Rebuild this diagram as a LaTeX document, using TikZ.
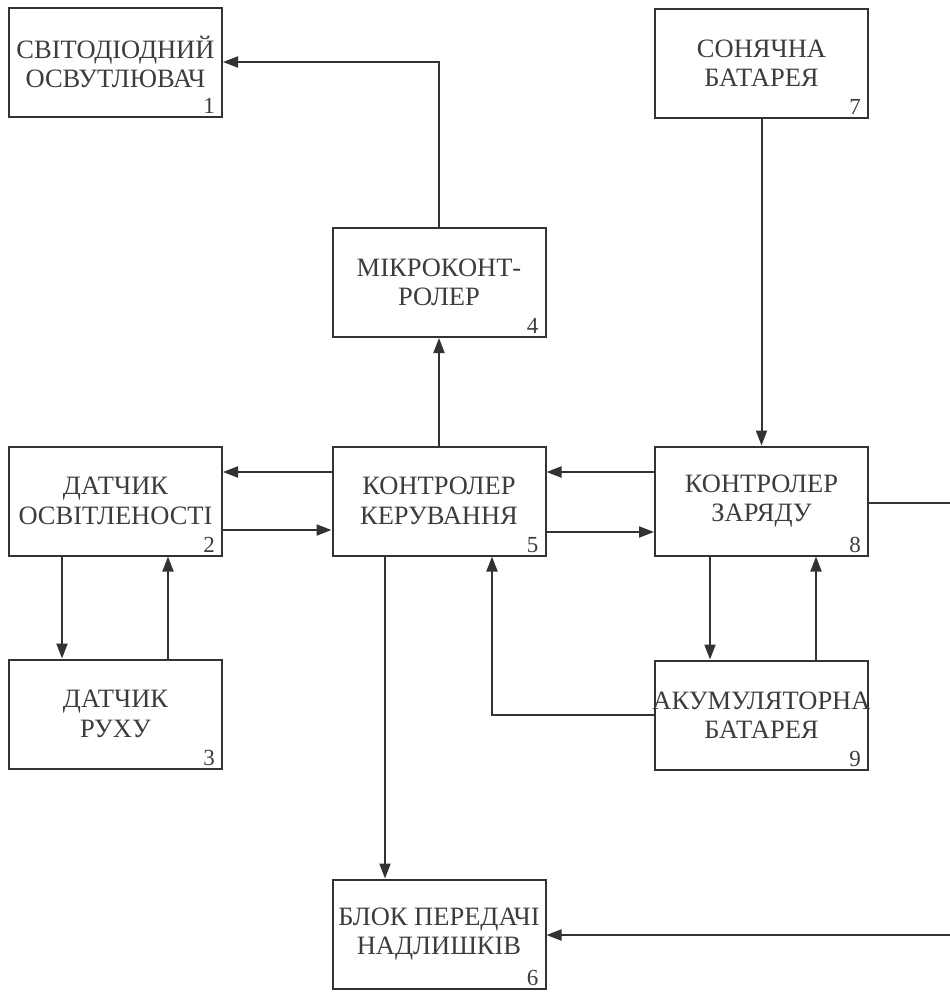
\documentclass[tikz,border=0pt]{standalone}
\usepackage{fontspec}
\setmainfont{Liberation Serif}
\usetikzlibrary{arrows.meta}
\definecolor{lnc}{RGB}{50,50,50}
\definecolor{txc}{RGB}{60,60,60}
\begin{document}
\begin{tikzpicture}[x=1pt,y=-1pt,
  blk/.style={draw=lnc, line width=2pt, rectangle, minimum width=213pt, minimum height=109pt,
    inner sep=0pt, align=center, text=txc, font=\fontsize{26.5}{29.5}\selectfont},
  num/.style={anchor=south east, inner sep=0pt, text=txc, font=\fontsize{23}{24}\selectfont, xshift=-8pt, yshift=4pt},
  arr/.style={draw=lnc, line width=2pt, -{Triangle[length=15pt,width=11pt]}},
  ln/.style={draw=lnc, line width=2pt}]
\useasboundingbox (0,0) rectangle (950,994);
\node[blk] (b1) at (115.5,62) {СВІТОДІОДНИЙ\\ОСВУТЛЮВАЧ};
\node[blk] (b7) at (761.5,63) {СОНЯЧНА\\БАТАРЕЯ};
\node[blk] (b4) at (439,282.5) {МІКРОКОНТ-\\РОЛЕР};
\node[blk] (b2) at (115.5,501) {ДАТЧИК\\ОСВІТЛЕНОСТІ};
\node[blk] (b5) at (439,501) {КОНТРОЛЕР\\КЕРУВАННЯ};
\node[blk] (b8) at (761.5,501) {КОНТРОЛЕР\\ЗАРЯДУ};
\node[blk] (b3) at (115.5,714) {ДАТЧИК\\РУХУ};
\node[blk] (b9) at (761.5,715) {\makebox[200pt]{АКУМУЛЯТОРНА}\\БАТАРЕЯ};
\node[blk] (b6) at (439,934) {БЛОК ПЕРЕДАЧІ\\НАДЛИШКІВ};
\node[num] (n1) at (b1.south east) {1};
\node[num] (n2) at (b2.south east) {2};
\node[num] (n3) at (b3.south east) {3};
\node[num] (n4) at (b4.south east) {4};
\node[num] (n5) at (b5.south east) {5};
\node[num] (n6) at (b6.south east) {6};
\node[num] (n7) at (b7.south east) {7};
\node[num] (n8) at (b8.south east) {8};
\node[num] (n9) at (b9.south east) {9};
\coordinate (e8) at (950,503);
\coordinate (e6) at (950,935);
% connectors
\draw[arr] (b5.north) -- (b4.south);
\draw[arr] (b4.north) |- (b1.east);
\draw[arr] ([yshift=29pt]b5.west) -- ([yshift=29pt]b2.east);
\draw[arr] ([yshift=-29pt]b2.east) -- ([yshift=-29pt]b5.west);
\draw[arr] ([yshift=29pt]b8.west) -- ([yshift=29pt]b5.east);
\draw[arr] ([yshift=-31pt]b5.east) -- ([yshift=-31pt]b8.west);
\draw[arr] (b7.south) -- (b8.north);
\draw[ln] (b8.east |- e8) -- (e8);
\draw[arr] (e6) -- (b6.east |- e6);
\draw[arr] ([xshift=-53.5pt]b2.south) -- ([xshift=-53.5pt]b3.north);
\draw[arr] ([xshift=52.5pt]b3.north) -- ([xshift=52.5pt]b2.south);
\draw[arr] ([xshift=-51.5pt]b8.south) -- ([xshift=-51.5pt]b9.north);
\draw[arr] ([xshift=54.5pt]b9.north) -- ([xshift=54.5pt]b8.south);
\draw[arr] (b9.west) -| ([xshift=53pt]b5.south);
\draw[arr] ([xshift=-54pt]b5.south) -- ([xshift=-54pt]b6.north);
\end{tikzpicture}
\end{document}
